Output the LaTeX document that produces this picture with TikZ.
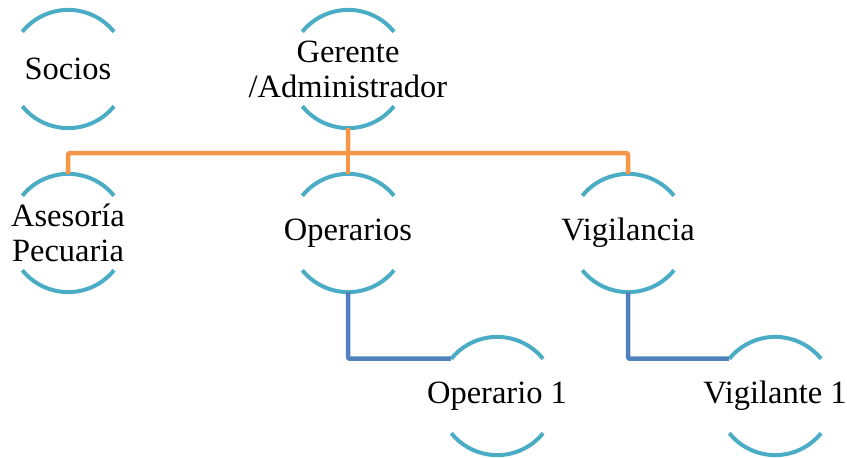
\documentclass[tikz,border=0pt]{standalone}
\usepackage{fontspec}
\setmainfont{Liberation Serif}
\definecolor{ringcol}{HTML}{4BACC6}
\definecolor{orgcol}{HTML}{F79646}
\definecolor{bluecol}{HTML}{4F81BD}
\tikzset{
  ring/.style={circle, minimum size=118pt, inner sep=0pt, draw=none},
  ringarc/.style={draw=ringcol, line width=4pt},
  lbl/.style={font=\fontsize{32.5}{35}\selectfont, align=center, inner sep=0pt},
  orgline/.style={draw=orgcol, line width=4.5pt, rounded corners=2pt},
  blueline/.style={draw=bluecol, line width=4.5pt, rounded corners=2pt}
}
\newcommand{\ringarcs}[1]{%
  \draw[ringarc] (#1.39) arc[start angle=39, end angle=141, radius=59pt];
  \draw[ringarc] (#1.-39) arc[start angle=-39, end angle=-141, radius=59pt];}
\begin{document}
\begin{tikzpicture}[x=1pt, y=-1pt]
\useasboundingbox (0,0) rectangle (847,458);
% rings
\node[ring] (soc) at (68,69) {};
\node[ring] (ger) at (348,69) {};
\node[ring] (ase) at (68,233) {};
\node[ring] (ope) at (348,233) {};
\node[ring] (vig) at (628,233) {};
\node[ring] (op1) at (497,396) {};
\node[ring] (vi1) at (775,396) {};
\foreach \n in {soc,ger,ase,ope,vig,op1,vi1} {\ringarcs{\n}}
% labels
\node[lbl] (socT) at (soc) {Socios};
\node[lbl] (gerT) at (ger) {Gerente\\/Administrador};
\node[lbl] (aseT) at (ase) {Asesoría\\Pecuaria};
\node[lbl] (opeT) at (ope) {Operarios};
\node[lbl] (vigT) at (vig) {Vigilancia};
\node[lbl] (op1T) at (op1) {Operario 1};
\node[lbl] (vi1T) at (vi1) {Vigilante 1};
% connectors
\coordinate (bus) at (0,153);
\draw[orgline] (ger.south) -- (ger.south |- bus) -| (ase.north);
\draw[orgline] (ger.south |- bus) -| (vig.north);
\draw[orgline] (ger.south |- bus) -- (ope.north);
\draw[blueline] (ope.south) |- (op1.141);
\draw[blueline] (vig.south) |- (vi1.141);
\end{tikzpicture}
\end{document}
